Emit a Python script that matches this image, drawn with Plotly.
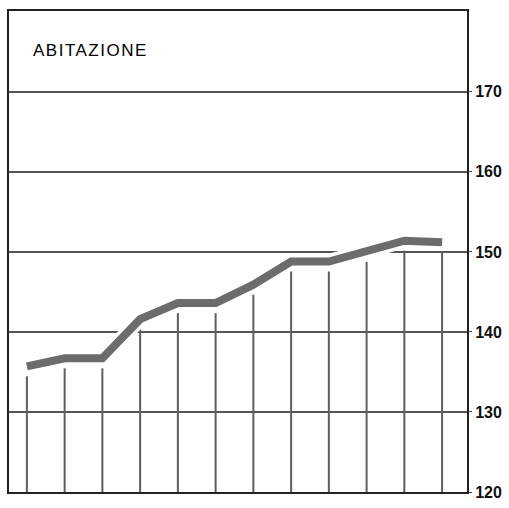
import plotly.graph_objects as go

# Monthly index values (12 periods)
periods = list(range(12))
index_values = [135.7, 136.7, 136.7, 141.6, 143.6, 143.6, 145.9, 148.8, 148.8, 150.0, 151.4, 151.2]

y_ticks = [120, 130, 140, 150, 160, 170]
y_tick_labels = ["120", "130", "140", "150", "160", "170"]
title_text = "ABITAZIONE"

BASE = 120
DROP_GAP = 1.25  # drop lines stop short of the curve

fig = go.Figure()

# vertical drop lines from the baseline up to just under each value
drop_x, drop_y = [], []
for p, v in zip(periods, index_values):
    drop_x += [p, p, None]
    drop_y += [BASE, v - DROP_GAP, None]
fig.add_trace(go.Scatter(
    x=drop_x, y=drop_y, mode="lines",
    line=dict(color="#5e5e5e", width=2),
    hoverinfo="skip", showlegend=False,
))

# white halo under the index line, interrupting the grid where it crosses
fig.add_trace(go.Scatter(
    x=periods, y=index_values, mode="lines",
    line=dict(color="white", width=15),
    hoverinfo="skip", showlegend=False,
))

# the index line itself
fig.add_trace(go.Scatter(
    x=periods, y=index_values, mode="lines",
    line=dict(color="#6c6c6c", width=8),
    showlegend=False,
))

fig.add_annotation(
    text='<span style="letter-spacing:1.5px;font-weight:500">' + title_text + "</span>",
    xref="paper", yref="paper", x=0.048, y=0.918,
    xanchor="left", yanchor="middle", showarrow=False,
    font=dict(family="Liberation Sans, Arial, sans-serif", size=17, color="#000000"),
)

fig.update_layout(
    width=509, height=508,
    margin=dict(l=7, r=41, t=11, b=10),
    paper_bgcolor="white", plot_bgcolor="white",
    xaxis=dict(
        range=[-0.474, 11.66], showgrid=False, zeroline=False,
        showticklabels=False, ticks="",
        showline=True, linecolor="#222222", linewidth=2, mirror=True,
    ),
    yaxis=dict(
        range=[120, 180.1], side="right",
        tickvals=y_ticks, ticktext=["<b>" + t + "</b>" for t in y_tick_labels],
        showgrid=True, gridcolor="#555555", gridwidth=2,
        zeroline=False,
        showline=True, linecolor="#222222", linewidth=2, mirror=True,
        ticks="outside", ticklen=3, tickcolor="#444444", tickwidth=1,
        tickfont=dict(family="Liberation Sans, Arial, sans-serif", size=16,
                      color="#111111"),
    ),
)

fig.write_html("out.html")
